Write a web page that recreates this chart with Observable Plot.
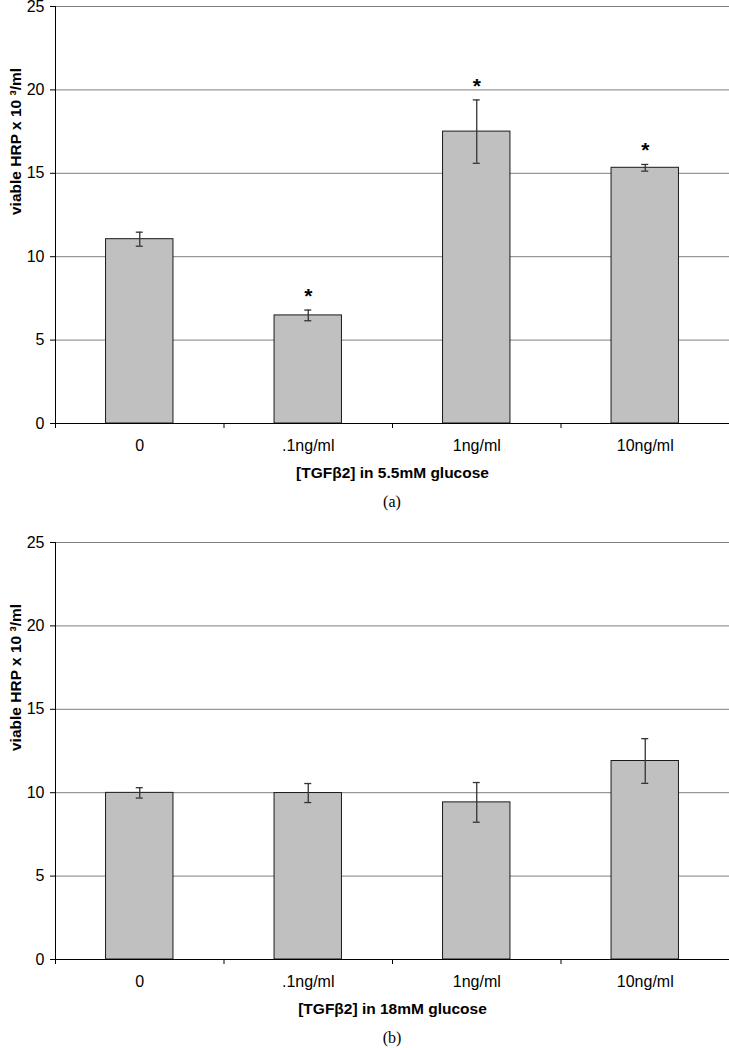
<!DOCTYPE html>
<html>
<head>
<meta charset="utf-8">
<script src="https://cdn.jsdelivr.net/npm/d3@7"></script>
<script src="https://cdn.jsdelivr.net/npm/@observablehq/plot@0.6"></script>
<style>
  html, body { margin: 0; padding: 0; background: white; }
  .caption { box-sizing: border-box; padding-left: 55px; width: 729px; text-align: center;
    font-family: "Liberation Serif", "Times New Roman", serif; font-size: 16px; height: 24px; line-height: 24px; color: #000; }
</style>
</head>
<body>
<div id="a"></div>
<div class="caption">(a)</div>
<div id="b"></div>
<div class="caption">(b)</div>
<script>
const categories = ["0", ".1ng/ml", "1ng/ml", "10ng/ml"];
const meansA = [11.05, 6.48, 17.5, 15.33];
const errA = [0.42, 0.32, 1.9, 0.2];
const sigA = [false, true, true, true];
const meansB = [9.99, 9.98, 9.42, 11.9];
const errB = [0.31, 0.57, 1.19, 1.34];
const sigB = [false, false, false, false];
const yTicks = [0, 5, 10, 15, 20, 25];
const yLabel = "viable HRP x 10 ³/ml";
const xTitleA = "[TGFβ2] in 5.5mM glucose";
const xTitleB = "[TGFβ2] in 18mM glucose";

function panel(means, errs, sig, title, marginTop, height) {
  const data = categories.map((c, i) => ({c, i, mean: means[i], err: errs[i], sig: sig[i]}));
  return Plot.plot({
    width: 729, height, marginTop, marginBottom: 67, marginLeft: 55, marginRight: 0,
    style: {fontFamily: "'Liberation Sans', Arial, sans-serif", fontSize: "16px", color: "black", background: "white", overflow: "visible"},
    x: {type: "linear", domain: [0, categories.length], axis: null, label: null},
    y: {domain: [0, 25], axis: null, label: null},
    marks: [
      Plot.ruleY(yTicks, {stroke: "#808080", strokeWidth: 1}),
      Plot.rectY(data, {x1: d => d.i + 0.3, x2: d => d.i + 0.7, y1: 0, y2: "mean", fill: "#c0c0c0", stroke: "#1a1a1a", strokeWidth: 1}),
      Plot.ruleX(data, {x: d => d.i + 0.5, y1: d => d.mean - d.err, y2: d => d.mean + d.err, stroke: "#333", strokeWidth: 1.3}),
      Plot.ruleY(data, {y: d => d.mean - d.err, x1: d => d.i + 0.5, x2: d => d.i + 0.5, insetLeft: -3.5, insetRight: -3.5, stroke: "#333", strokeWidth: 1.3}),
      Plot.ruleY(data, {y: d => d.mean + d.err, x1: d => d.i + 0.5, x2: d => d.i + 0.5, insetLeft: -3.5, insetRight: -3.5, stroke: "#333", strokeWidth: 1.3}),
      Plot.text(data.filter(d => d.sig), {x: d => d.i + 0.5, y: d => d.mean + d.err, text: () => "*", dy: -14, fontSize: 21, fontWeight: "bold", lineAnchor: "middle", fill: "black"}),
      Plot.ruleX([0], {y1: 0, y2: 25, stroke: "black"}),
      Plot.ruleY([0], {stroke: "black"}),
      Plot.axisY({ticks: yTicks, tickSize: 5, tickPadding: 6, tickFormat: d => String(d), label: null, stroke: "black", fontSize: 16}),
      Plot.axisX({ticks: d3.range(categories.length + 1), tickSize: 5, tickFormat: () => "", label: null, stroke: "black"}),
      Plot.axisX({ticks: categories.map((c, i) => i + 0.5), tickSize: 0, tickPadding: 16, tickFormat: v => categories[Math.floor(v)], label: null, fontSize: 16}),
      Plot.text([title], {frameAnchor: "bottom", dy: 50, fontWeight: "bold", fontSize: 15.5, lineAnchor: "middle", fill: "black"}),
      Plot.text([yLabel], {frameAnchor: "left", dx: -35, rotate: -90, lineAnchor: "bottom", fontWeight: "bold", fontSize: 15.5, fill: "black"})
    ]
  });
}

document.getElementById("a").append(panel(meansA, errA, sigA, xTitleA, 6, 490));
document.getElementById("b").append(panel(meansB, errB, sigB, xTitleB, 28, 512));
</script>
</body>
</html>
